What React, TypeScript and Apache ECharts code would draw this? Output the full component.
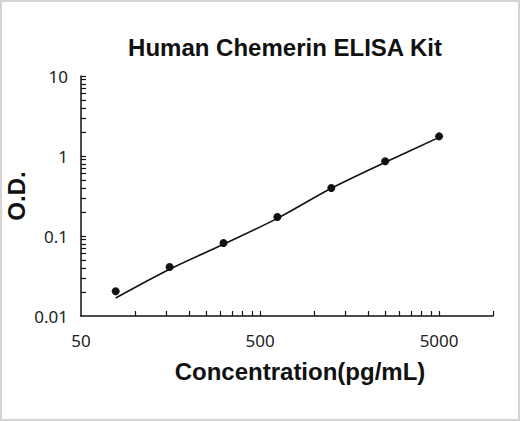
import { useEffect, useRef } from 'react';
import * as echarts from 'echarts';

const concentrations = [78.125, 156.25, 312.5, 625, 1250, 2500, 5000];
const odValues = [0.0204, 0.041, 0.0818, 0.173, 0.398, 0.859, 1.76];
const fitValues = [0.0168, 0.0384, 0.0787, 0.166, 0.395, 0.834, 1.71];

const xLabelValues = [50, 500, 5000];
const xTickValues = [
  100, 150, 200, 250, 300, 350, 400, 450, 500,
  1000, 1500, 2000, 2500, 3000, 3500, 4000, 4500, 5000, 10000,
];
const yLabelValues = [0.01, 0.1, 1, 10];
const yTickValues = [
  0.02, 0.03, 0.04, 0.05, 0.06, 0.07, 0.08, 0.09, 0.1,
  0.2, 0.3, 0.4, 0.5, 0.6, 0.7, 0.8, 0.9, 1,
  2, 3, 4, 5, 6, 7, 8, 9, 10,
];

const fmt = (v: number) => String(Number(v.toPrecision(6)));

export default function App() {
  const chartRef = useRef<HTMLDivElement>(null);

  useEffect(() => {
    if (!chartRef.current) return;
    const chart = echarts.init(chartRef.current, null, { renderer: 'svg' });

    const labelFont = {
      fontFamily: 'Noto Sans',
      fontSize: 17,
      color: '#222',
    };

    const option = {
      animation: false,
      backgroundColor: '#fff',
      title: {
        text: 'Human Chemerin ELISA Kit',
        left: 280,
        top: 30,
        textAlign: 'center',
        textStyle: {
          fontFamily: 'Liberation Sans',
          fontWeight: 'bold',
          fontSize: 24,
          color: '#111',
        },
      },
      graphic: [
        {
          type: 'rect',
          shape: { x: 1, y: 1, width: 518, height: 419 },
          style: { fill: 'none', stroke: '#d4d4d4', lineWidth: 2 },
          silent: true,
        },
      ],
      grid: {
        left: 81,
        right: 27,
        top: 76,
        bottom: 105,
        outerBoundsMode: 'none',
        containLabel: false,
      },
      xAxis: {
        type: 'log',
        logBase: 10,
        min: 50,
        max: 10000,
        name: 'Concentration(pg/mL)',
        nameLocation: 'middle',
        nameGap: 43,
        nameTextStyle: {
          fontFamily: 'Liberation Sans',
          fontWeight: 'bold',
          fontSize: 24,
          color: '#111',
          padding: [0, 0, 0, 26],
        },
        axisLine: { lineStyle: { color: '#111', width: 1.5 } },
        axisTick: {
          inside: true,
          length: 5,
          customValues: xTickValues,
          lineStyle: { color: '#111', width: 1.2 },
        },
        axisLabel: {
          ...labelFont,
          margin: 16,
          customValues: xLabelValues,
          formatter: (v: number) => fmt(v),
        },
        splitLine: { show: false },
        minorTick: { show: false },
      },
      yAxis: {
        type: 'log',
        logBase: 10,
        min: 0.01,
        max: 10,
        name: 'O.D.',
        nameLocation: 'middle',
        nameGap: 53,
        nameMoveOverlap: false,
        nameTextStyle: {
          fontFamily: 'Liberation Sans',
          fontWeight: 'bold',
          fontSize: 24,
          color: '#111',
        },
        axisLine: { show: true, lineStyle: { color: '#111', width: 1.5 } },
        axisTick: {
          show: true,
          inside: true,
          length: 5,
          customValues: yTickValues,
          lineStyle: { color: '#111', width: 1.2 },
        },
        axisLabel: {
          ...labelFont,
          margin: 13,
          customValues: yLabelValues,
          formatter: (v: number) => fmt(v),
        },
        splitLine: { show: false },
      },
      series: [
        {
          name: 'Fit',
          type: 'line',
          data: concentrations.map((c, i) => [c, fitValues[i]]),
          smooth: 0.3,
          showSymbol: false,
          symbol: 'none',
          lineStyle: { color: '#111', width: 1.6 },
          z: 2,
        },
        {
          name: 'O.D.',
          type: 'scatter',
          data: concentrations.map((c, i) => [c, odValues[i]]),
          symbol: 'circle',
          symbolSize: 8,
          itemStyle: { color: '#111', opacity: 1 },
          z: 3,
        },
      ],
    };

    chart.setOption(option);

    return () => {
      chart.dispose();
    };
  }, []);

  return (
    <div
      ref={chartRef}
      style={{ position: 'fixed', left: 0, top: 0, width: 520, height: 421 }}
    />
  );
}
